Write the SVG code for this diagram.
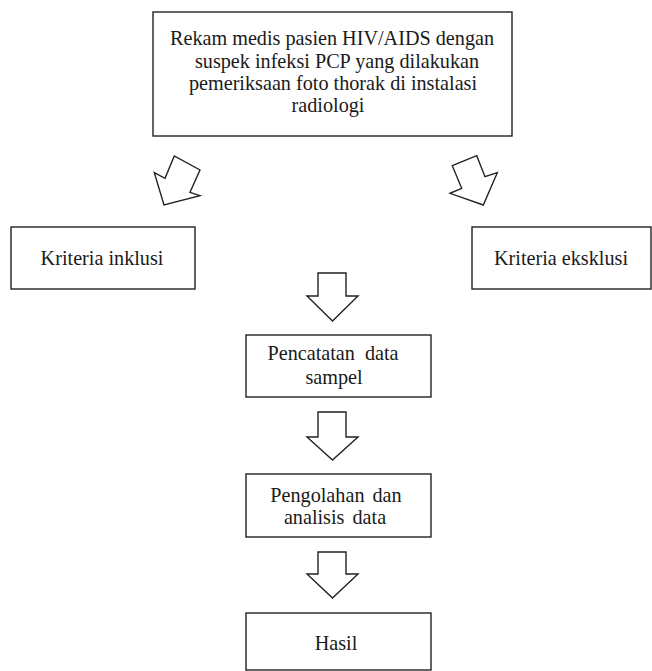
<svg xmlns="http://www.w3.org/2000/svg" width="652" height="671" viewBox="0 0 652 671">
<style>
.box{fill:#fff;stroke:#222;stroke-width:1.4}
.arr{fill:#fff;stroke:#222;stroke-width:1.4;stroke-linejoin:miter}
text{font-family:"Liberation Serif","Times New Roman",serif;font-size:20.2px;fill:#1a1a1a;text-anchor:middle}
</style>
<rect width="652" height="671" fill="#fff"/>
<g id="top">
<rect class="box" x="153" y="12" width="359" height="124"/>
<text x="332" y="45">Rekam medis pasien HIV/AIDS dengan</text>
<text x="337" y="68">suspek infeksi PCP yang dilakukan</text>
<text x="333" y="90">pemeriksaan foto thorak di instalasi</text>
<text x="328" y="112">radiologi</text>
</g>
<g id="inklusi">
<rect class="box" x="11" y="227" width="184" height="62"/>
<text x="102" y="265">Kriteria inklusi</text>
</g>
<g id="eksklusi">
<rect class="box" x="472" y="227" width="179" height="62"/>
<text x="561" y="265">Kriteria eksklusi</text>
</g>
<g id="pencatatan">
<rect class="box" x="246" y="335" width="185" height="62"/>
<text x="333" y="360" word-spacing="5">Pencatatan data</text>
<text x="334" y="384">sampel</text>
</g>
<g id="pengolahan">
<rect class="box" x="246" y="474" width="185" height="63"/>
<text x="336" y="502" word-spacing="3">Pengolahan dan</text>
<text x="335" y="524" word-spacing="3">analisis data</text>
</g>
<g id="hasil">
<rect class="box" x="246" y="613" width="185" height="57"/>
<text x="336" y="650">Hasil</text>
</g>
<g id="connectors">
<polygon class="arr" points="154.3,172.7 165,178.3 174.3,156 200,170 190,192.3 200,195.7 164,205"/>
<polygon class="arr" points="452.3,165.7 476.7,155.7 485,176.7 497.3,172.7 483.3,205 450,193.3 461.7,188.3"/>
<polygon class="arr" points="318,273 346,273 346,296 358,296 332.5,321 307,296 318,296"/>
<polygon class="arr" points="318,412 346,412 346,437 358,437 332.5,460 307,437 318,437"/>
<polygon class="arr" points="318,552 346,552 346,574 358,574 332.5,598 307,574 318,574"/>
</g>
</svg>
